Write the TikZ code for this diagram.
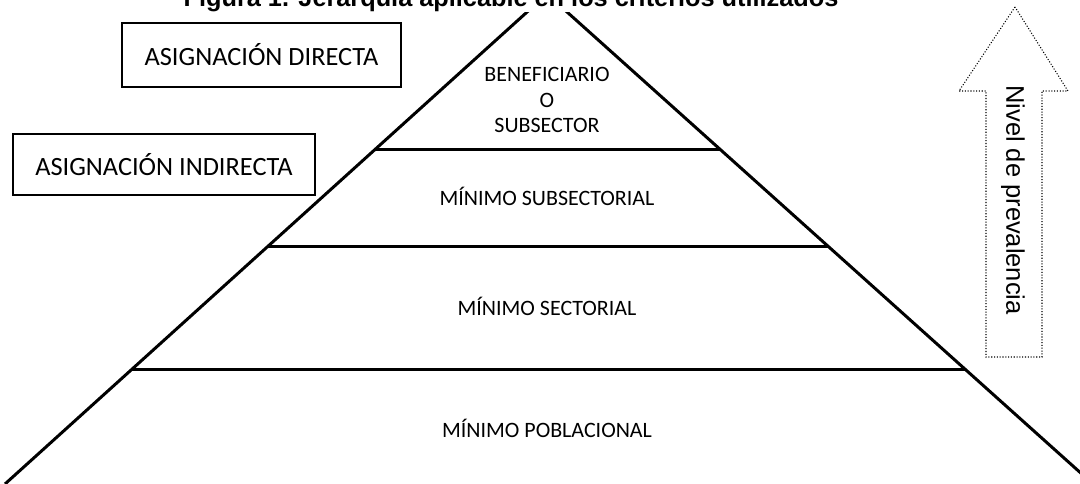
\documentclass[tikz,border=0pt]{standalone}
\usepackage{fontspec}
\setmainfont{Carlito}
\newfontfamily\arialfont{Liberation Sans}
\usetikzlibrary{positioning}

\begin{document}
\begin{tikzpicture}[
    x=0.02cm, y=-0.02cm,
    side_style/.style={line width=1.7pt},
    level_style/.style={line width=1.8pt},
    layer_style/.style={font=\fontsize{12.5}{14.7}\selectfont, align=center, inner sep=0pt},
    box_style/.style={draw, line width=0.8pt, inner sep=0pt, font=\fontsize{15}{17}\selectfont},
    arrow_style/.style={densely dotted, line width=0.6pt}
]
    \useasboundingbox (0,0) rectangle (1080,484);
    \clip (0,0) rectangle (1080,484);

    % Coordinates
    \coordinate (apex) at (547,-6);
    \coordinate (lfoot) at (5,484);
    \coordinate (rfoot) at (1093,484);
    \path (apex) -- (lfoot) coordinate[pos=0.318] (l1) coordinate[pos=0.516] (l2) coordinate[pos=0.767] (l3);
    \path (apex) -- (rfoot) coordinate[pos=0.318] (r1) coordinate[pos=0.516] (r2) coordinate[pos=0.767] (r3);

    % Pyramid
    \draw[side_style] (lfoot) -- (apex) -- (rfoot);
    \draw[level_style] (l1) -- (r1);
    \draw[level_style] (l2) -- (r2);
    \draw[level_style] (l3) -- (r3);

    % Arrow
    \coordinate (tip) at (1015,7);
    \coordinate (hl) at (959,91);
    \coordinate (hr) at (1068,91);
    \coordinate (sl) at (986,91);
    \coordinate (sr) at (1042,91);
    \coordinate (bl) at (986,357);
    \coordinate (br) at (1042,357);
    \draw[arrow_style] (tip) -- (hl) -- (sl) -- (bl) -- (br) -- (sr) -- (hr) -- cycle;

    % Nodes and Labels
    \node[font=\arialfont\bfseries\fontsize{14.4}{17}\selectfont, fill=white, inner sep=0.5pt, anchor=base] (title) at (511,6) {Figura 1. Jerarquía aplicable en los criterios utilizados};
    \node[layer_style] (beneficiario) at (547,100) {BENEFICIARIO\\O\\SUBSECTOR};
    \node[layer_style, anchor=base] (subsectorial) at (547,205) {MÍNIMO SUBSECTORIAL};
    \node[layer_style, anchor=base] (sectorial) at (547,315) {MÍNIMO SECTORIAL};
    \node[layer_style, anchor=base] (poblacional) at (547,437) {MÍNIMO POBLACIONAL};
    \node[box_style, minimum width=5.58cm, minimum height=1.28cm] (directa) at (261.5,55) {ASIGNACIÓN DIRECTA};
    \node[box_style, minimum width=6.04cm, minimum height=1.22cm] (indirecta) at (164,164.5) {ASIGNACIÓN INDIRECTA};
    \node[font=\arialfont\fontsize{14.5}{17}\selectfont, rotate=-90] (nivel) at (1013,200) {Nivel de prevalencia};
\end{tikzpicture}
\end{document}
